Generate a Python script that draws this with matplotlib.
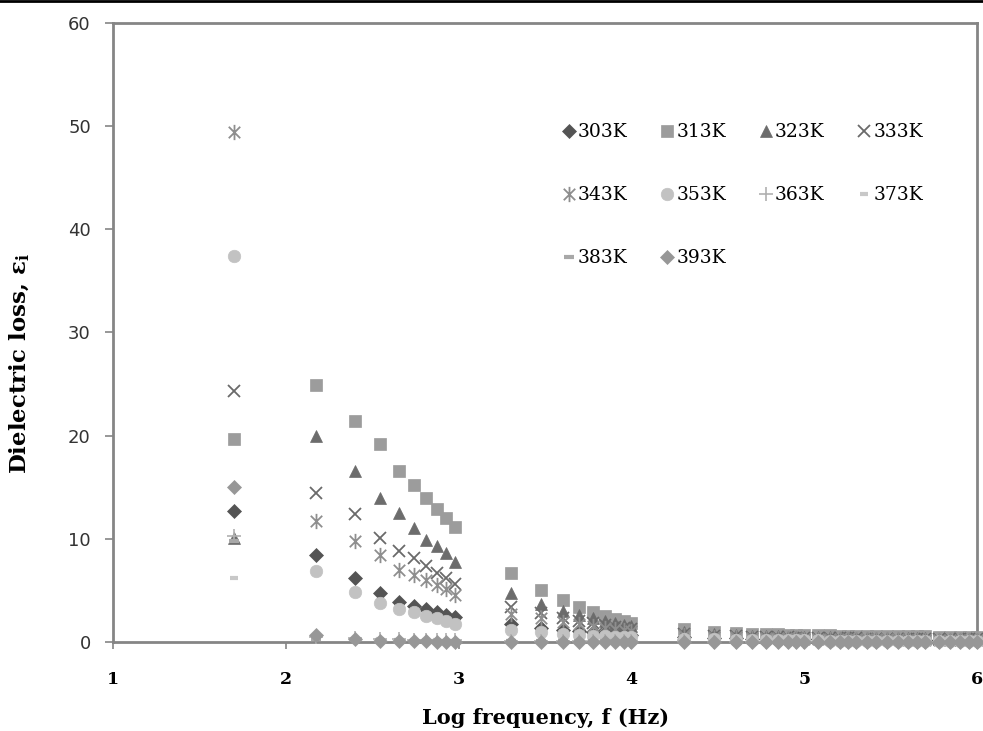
import matplotlib
matplotlib.use("Agg")
import matplotlib.pyplot as plt
import numpy as np
from matplotlib.lines import Line2D
from matplotlib.path import Path

# measurement frequencies (Hz)
freq_hz = [50, 150, 250, 350, 450, 550, 650, 750, 850, 950,
           2000, 3000, 4000, 5000, 6000, 7000, 8000, 9000, 10000,
           20000, 30000, 40000, 50000, 60000, 70000, 80000, 90000, 100000,
           120000, 140000, 160000, 180000, 200000, 230000, 260000, 300000,
           350000, 400000, 450000, 500000, 600000, 700000, 800000, 900000, 1000000]

# dielectric loss for each temperature
loss_303 = [12.7, 8.4, 6.2, 4.7, 3.9, 3.5, 3.2, 2.9, 2.6, 2.4,
            1.7, 1.4, 1.2, 1.05, 0.95, 0.85, 0.8, 0.75, 0.7,
            0.45, 0.38, 0.34, 0.32, 0.3, 0.28, 0.27, 0.26, 0.25,
            0.24, 0.23, 0.22, 0.21, 0.2, 0.2, 0.19, 0.18, 0.18, 0.17, 0.17, 0.16, 0.16, 0.15, 0.15, 0.14, 0.14]
loss_313 = [19.7, 24.9, 21.4, 19.2, 16.6, 15.2, 14.0, 12.9, 12.0, 11.1,
            6.7, 5.0, 4.1, 3.4, 2.9, 2.5, 2.2, 2.0, 1.8,
            1.3, 1.0, 0.85, 0.8, 0.78, 0.75, 0.72, 0.7, 0.68,
            0.66, 0.64, 0.62, 0.61, 0.6, 0.59, 0.58, 0.57, 0.56, 0.55, 0.54, 0.53, 0.52, 0.51, 0.5, 0.5, 0.49]
loss_323 = [10.1, 20.0, 16.6, 14.0, 12.5, 11.0, 9.9, 9.3, 8.6, 7.8,
            4.7, 3.7, 3.0, 2.6, 2.3, 2.0, 1.8, 1.65, 1.5,
            0.95, 0.75, 0.65, 0.6, 0.57, 0.55, 0.52, 0.5, 0.48,
            0.46, 0.44, 0.43, 0.42, 0.41, 0.4, 0.39, 0.38, 0.37, 0.36, 0.35, 0.34, 0.33, 0.32, 0.31, 0.3, 0.3]
loss_333 = [24.3, 14.4, 12.4, 10.1, 8.8, 8.1, 7.4, 6.7, 6.2, 5.6,
            3.4, 2.8, 2.3, 2.0, 1.8, 1.6, 1.45, 1.35, 1.25,
            0.8, 0.6, 0.55, 0.5, 0.48, 0.46, 0.44, 0.42, 0.4,
            0.38, 0.37, 0.36, 0.35, 0.34, 0.33, 0.32, 0.31, 0.3, 0.29, 0.28, 0.27, 0.26, 0.25, 0.25, 0.24, 0.24]
loss_343 = [49.4, 11.7, 9.8, 8.4, 7.0, 6.5, 6.0, 5.5, 5.1, 4.6,
            2.7, 2.3, 1.9, 1.7, 1.5, 1.35, 1.25, 1.15, 1.05,
            0.65, 0.5, 0.45, 0.42, 0.4, 0.38, 0.36, 0.34, 0.33,
            0.32, 0.31, 0.3, 0.29, 0.28, 0.27, 0.26, 0.25, 0.24, 0.23, 0.22, 0.22, 0.21, 0.2, 0.2, 0.19, 0.19]
loss_353 = [37.4, 6.9, 4.8, 3.8, 3.2, 2.9, 2.5, 2.3, 2.0, 1.7,
            1.2, 0.95, 0.8, 0.7, 0.62, 0.56, 0.52, 0.48, 0.45,
            0.3, 0.25, 0.22, 0.2, 0.19, 0.18, 0.17, 0.16, 0.15,
            0.15, 0.14, 0.14, 0.13, 0.13, 0.12, 0.12, 0.12, 0.11, 0.11, 0.11, 0.1, 0.1, 0.1, 0.1, 0.09, 0.09]
loss_363 = [10.3, 0.5, 0.35, 0.3, 0.25, 0.22, 0.2, 0.18, 0.17, 0.16,
            0.12, 0.1, 0.09, 0.08, 0.08, 0.07, 0.07, 0.06, 0.06,
            0.05, 0.04, 0.04, 0.04, 0.03, 0.03, 0.03, 0.03, 0.03,
            0.02, 0.02, 0.02, 0.02, 0.02, 0.02, 0.02, 0.02, 0.02, 0.02, 0.02, 0.02, 0.02, 0.02, 0.02, 0.02, 0.02]
loss_373 = [6.2, 0.4, 0.3, 0.25, 0.2, 0.18, 0.16, 0.15, 0.14, 0.13,
            0.1, 0.09, 0.08, 0.07, 0.07, 0.06, 0.06, 0.05, 0.05,
            0.04, 0.04, 0.03, 0.03, 0.03, 0.03, 0.03, 0.02, 0.02,
            0.02, 0.02, 0.02, 0.02, 0.02, 0.02, 0.02, 0.02, 0.02, 0.02, 0.02, 0.02, 0.02, 0.02, 0.02, 0.02, 0.02]
loss_383 = [9.8, 0.3, 0.2, 0.17, 0.15, 0.13, 0.12, 0.11, 0.1, 0.1,
            0.08, 0.07, 0.06, 0.06, 0.05, 0.05, 0.05, 0.04, 0.04,
            0.03, 0.03, 0.03, 0.02, 0.02, 0.02, 0.02, 0.02, 0.02,
            0.02, 0.02, 0.02, 0.02, 0.02, 0.02, 0.02, 0.02, 0.02, 0.02, 0.02, 0.02, 0.02, 0.02, 0.02, 0.02, 0.02]
loss_393 = [15.0, 0.7, 0.3, 0.12, 0.08, 0.06, 0.05, 0.04, 0.03, 0.03,
            0.02, 0.02, 0.02, 0.02, 0.02, 0.02, 0.02, 0.02, 0.02,
            0.01, 0.01, 0.01, 0.01, 0.01, 0.01, 0.01, 0.01, 0.01,
            0.01, 0.01, 0.01, 0.01, 0.01, 0.01, 0.01, 0.01, 0.01, 0.01, 0.01, 0.01, 0.01, 0.01, 0.01, 0.01, 0.01]

labels = ["303K", "313K", "323K", "333K", "343K", "353K", "363K", "373K", "383K", "393K"]
losses = [loss_303, loss_313, loss_323, loss_333, loss_343,
          loss_353, loss_363, loss_373, loss_383, loss_393]

# star marker: an x with a vertical stroke
star = Path([(0, -1), (0, 1), (-0.75, -0.75), (0.75, 0.75), (-0.75, 0.75), (0.75, -0.75)],
            [Path.MOVETO, Path.LINETO, Path.MOVETO, Path.LINETO, Path.MOVETO, Path.LINETO])

styles = [
    dict(marker="D", ms=7.0, mfc="#545454", mec="#545454", mew=0.5),
    dict(marker="s", ms=8.5, mfc="#9c9c9c", mec="#9c9c9c", mew=0.5),
    dict(marker="^", ms=9.0, mfc="#6c6c6c", mec="#6c6c6c", mew=0.5),
    dict(marker="x", ms=9.0, mfc="none", mec="#6a6a6a", mew=1.3),
    dict(marker=star, ms=11.0, mfc="none", mec="#8e8e8e", mew=1.3),
    dict(marker="o", ms=9.0, mfc="#c2c2c2", mec="#c2c2c2", mew=0.5),
    dict(marker="+", ms=10.0, mfc="none", mec="#b0b0b0", mew=1.2),
    dict(marker="_", ms=6.0, mfc="none", mec="#c8c8c8", mew=3.0),
    dict(marker="_", ms=7.0, mfc="none", mec="#a8a8a8", mew=3.0),
    dict(marker="D", ms=7.0, mfc="#979797", mec="#979797", mew=0.5),
]

plt.rcParams["mathtext.fontset"] = "custom"
plt.rcParams["mathtext.bf"] = "DejaVu Serif:bold"

fig = plt.figure(figsize=(9.83, 7.31), dpi=100)
ax = fig.add_axes([0.115, 0.1218, 0.879, 0.8467])

log_f = np.log10(freq_hz)
handles = []
for vals, lab, st in zip(losses, labels, styles):
    h, = ax.plot(log_f, vals, linestyle="none", label=lab, clip_on=False, zorder=3, **st)
    handles.append(h)

ax.set_xlim(1, 6)
ax.set_ylim(0, 60)
ax.set_xticks([1, 2, 3, 4, 5, 6])
ax.set_yticks([0, 10, 20, 30, 40, 50, 60])

for side in ["left", "bottom", "top", "right"]:
    ax.spines[side].set_color("#858585")
    ax.spines[side].set_linewidth(2.0)
    ax.spines[side].set_zorder(1)

ax.tick_params(axis="y", direction="out", length=6, width=1.2, color="#858585",
               pad=10, labelsize=13, labelcolor="#333333")
ax.tick_params(axis="x", direction="out", length=5, width=1.2, color="#858585",
               pad=16, labelsize=12.5)
for t in ax.get_xticklabels():
    t.set_fontfamily("DejaVu Serif")
    t.set_fontweight("bold")

ax.set_xlabel("Log frequency, f (Hz)", fontfamily="DejaVu Serif", fontweight="bold", fontsize=15)
ax.set_ylabel(r"Dielectric loss, ε$_\mathbf{i}$", fontfamily="DejaVu Serif", fontweight="bold", fontsize=16.5)
ax.xaxis.set_label_coords(0.5, -0.107)
ax.yaxis.set_label_coords(-0.094, 0.45)

# legend laid out row by row: 4 per row
order = [0, 4, 8, 1, 5, 9, 2, 6, 3, 7]
ax.legend([handles[i] for i in order], [labels[i] for i in order], ncol=4,
          loc="upper left", bbox_to_anchor=(0.5, 0.865), frameon=False,
          handlelength=0.7, handletextpad=0.15, columnspacing=1.75, labelspacing=2.4,
          prop={"family": "DejaVu Serif", "size": 13.5})

# page rule along the top edge
fig.add_artist(Line2D([0, 1], [0.998, 0.998], color="black", linewidth=2.0, transform=fig.transFigure))

fig.savefig("out.png", dpi=100)
